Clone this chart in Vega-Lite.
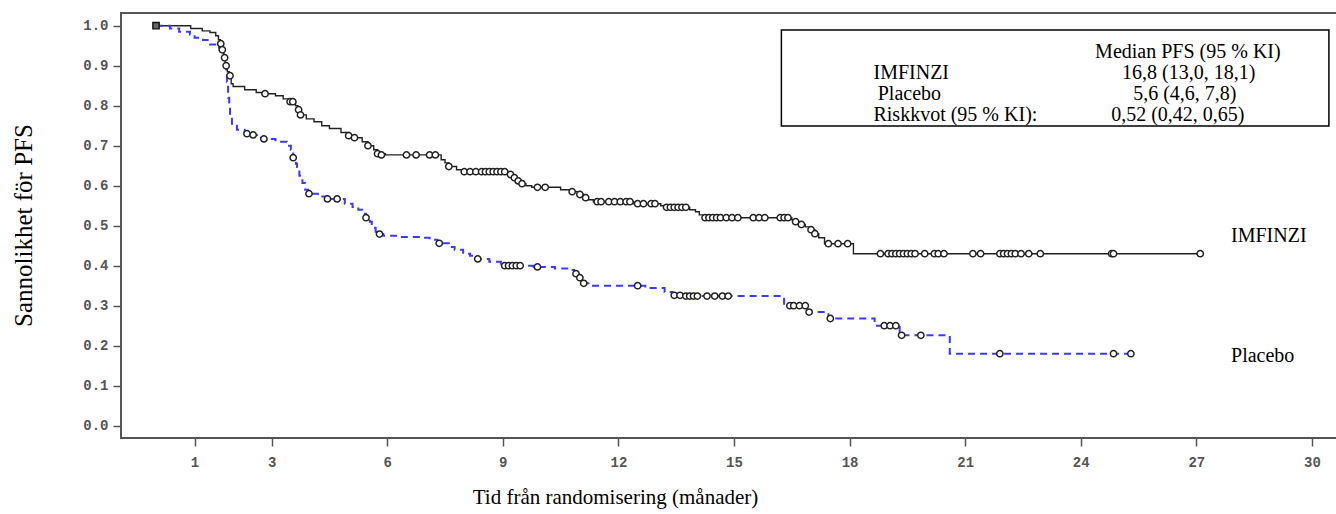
{
  "$schema": "https://vega.github.io/schema/vega-lite/v6.json",
  "width": 1216,
  "height": 425,
  "autosize": {"type": "none"},
  "padding": {"left": 121, "top": 13, "right": 0, "bottom": 76},
  "background": "white",
  "config": {
    "view": {"stroke": "#555", "strokeWidth": 2},
    "axis": {"grid": false, "domain": false, "labelFont": "Liberation Mono", "labelFontSize": 14, "labelFontWeight": "bold", "labelColor": "#555", "tickColor": "#555", "tickWidth": 1.5, "tickSize": 8, "titleFont": "Liberation Serif", "titleFontSize": 21, "titleFontWeight": "normal", "titleColor": "#000"}
  },
  "datasets": {
    "curve": [
      {"arm":"IMFINZI","t":0,"s":1.0},{"arm":"IMFINZI","t":0.9,"s":0.993},{"arm":"IMFINZI","t":1.2,"s":0.987},{"arm":"IMFINZI","t":1.4,"s":0.983},{"arm":"IMFINZI","t":1.55,"s":0.975},{"arm":"IMFINZI","t":1.62,"s":0.965},{"arm":"IMFINZI","t":1.67,"s":0.955},{"arm":"IMFINZI","t":1.72,"s":0.94},{"arm":"IMFINZI","t":1.76,"s":0.925},{"arm":"IMFINZI","t":1.8,"s":0.905},{"arm":"IMFINZI","t":1.85,"s":0.885},{"arm":"IMFINZI","t":1.9,"s":0.87},{"arm":"IMFINZI","t":1.95,"s":0.855},{"arm":"IMFINZI","t":2.0,"s":0.848},{"arm":"IMFINZI","t":2.3,"s":0.84},{"arm":"IMFINZI","t":2.6,"s":0.833},{"arm":"IMFINZI","t":2.75,"s":0.83},{"arm":"IMFINZI","t":3.1,"s":0.825},{"arm":"IMFINZI","t":3.3,"s":0.817},{"arm":"IMFINZI","t":3.45,"s":0.81},{"arm":"IMFINZI","t":3.62,"s":0.8},{"arm":"IMFINZI","t":3.68,"s":0.79},{"arm":"IMFINZI","t":3.73,"s":0.777},{"arm":"IMFINZI","t":3.9,"s":0.767},{"arm":"IMFINZI","t":4.1,"s":0.76},{"arm":"IMFINZI","t":4.3,"s":0.75},{"arm":"IMFINZI","t":4.5,"s":0.743},{"arm":"IMFINZI","t":4.8,"s":0.733},{"arm":"IMFINZI","t":5.0,"s":0.725},{"arm":"IMFINZI","t":5.2,"s":0.72},{"arm":"IMFINZI","t":5.35,"s":0.71},{"arm":"IMFINZI","t":5.5,"s":0.7},{"arm":"IMFINZI","t":5.65,"s":0.69},{"arm":"IMFINZI","t":5.75,"s":0.68},{"arm":"IMFINZI","t":5.95,"s":0.677},{"arm":"IMFINZI","t":7.4,"s":0.665},{"arm":"IMFINZI","t":7.5,"s":0.657},{"arm":"IMFINZI","t":7.6,"s":0.648},{"arm":"IMFINZI","t":7.8,"s":0.64},{"arm":"IMFINZI","t":7.95,"s":0.635},{"arm":"IMFINZI","t":9.15,"s":0.628},{"arm":"IMFINZI","t":9.25,"s":0.62},{"arm":"IMFINZI","t":9.35,"s":0.612},{"arm":"IMFINZI","t":9.45,"s":0.605},{"arm":"IMFINZI","t":9.6,"s":0.6},{"arm":"IMFINZI","t":9.75,"s":0.596},{"arm":"IMFINZI","t":10.5,"s":0.59},{"arm":"IMFINZI","t":10.75,"s":0.585},{"arm":"IMFINZI","t":10.95,"s":0.578},{"arm":"IMFINZI","t":11.1,"s":0.57},{"arm":"IMFINZI","t":11.2,"s":0.565},{"arm":"IMFINZI","t":11.35,"s":0.56},{"arm":"IMFINZI","t":12.4,"s":0.555},{"arm":"IMFINZI","t":13.1,"s":0.55},{"arm":"IMFINZI","t":13.2,"s":0.546},{"arm":"IMFINZI","t":13.85,"s":0.54},{"arm":"IMFINZI","t":14.0,"s":0.535},{"arm":"IMFINZI","t":14.1,"s":0.527},{"arm":"IMFINZI","t":14.2,"s":0.52},{"arm":"IMFINZI","t":16.5,"s":0.515},{"arm":"IMFINZI","t":16.6,"s":0.51},{"arm":"IMFINZI","t":16.75,"s":0.503},{"arm":"IMFINZI","t":16.85,"s":0.497},{"arm":"IMFINZI","t":17.0,"s":0.49},{"arm":"IMFINZI","t":17.1,"s":0.48},{"arm":"IMFINZI","t":17.2,"s":0.47},{"arm":"IMFINZI","t":17.35,"s":0.455},{"arm":"IMFINZI","t":18.1,"s":0.43},{"arm":"IMFINZI","t":27.1,"s":0.43},
      {"arm":"Placebo","t":0,"s":1.0},{"arm":"Placebo","t":0.36,"s":0.993},{"arm":"Placebo","t":0.6,"s":0.985},{"arm":"Placebo","t":0.88,"s":0.978},{"arm":"Placebo","t":1.0,"s":0.97},{"arm":"Placebo","t":1.22,"s":0.964},{"arm":"Placebo","t":1.4,"s":0.953},{"arm":"Placebo","t":1.58,"s":0.945},{"arm":"Placebo","t":1.71,"s":0.93},{"arm":"Placebo","t":1.76,"s":0.915},{"arm":"Placebo","t":1.79,"s":0.9},{"arm":"Placebo","t":1.82,"s":0.88},{"arm":"Placebo","t":1.84,"s":0.86},{"arm":"Placebo","t":1.87,"s":0.82},{"arm":"Placebo","t":1.9,"s":0.8},{"arm":"Placebo","t":1.92,"s":0.78},{"arm":"Placebo","t":1.97,"s":0.755},{"arm":"Placebo","t":2.1,"s":0.74},{"arm":"Placebo","t":2.3,"s":0.73},{"arm":"Placebo","t":2.5,"s":0.727},{"arm":"Placebo","t":2.65,"s":0.72},{"arm":"Placebo","t":2.8,"s":0.717},{"arm":"Placebo","t":3.1,"s":0.71},{"arm":"Placebo","t":3.4,"s":0.7},{"arm":"Placebo","t":3.5,"s":0.69},{"arm":"Placebo","t":3.56,"s":0.67},{"arm":"Placebo","t":3.63,"s":0.655},{"arm":"Placebo","t":3.66,"s":0.647},{"arm":"Placebo","t":3.72,"s":0.625},{"arm":"Placebo","t":3.8,"s":0.607},{"arm":"Placebo","t":3.87,"s":0.59},{"arm":"Placebo","t":3.95,"s":0.58},{"arm":"Placebo","t":4.2,"s":0.573},{"arm":"Placebo","t":4.4,"s":0.567},{"arm":"Placebo","t":4.9,"s":0.555},{"arm":"Placebo","t":5.1,"s":0.547},{"arm":"Placebo","t":5.25,"s":0.54},{"arm":"Placebo","t":5.35,"s":0.53},{"arm":"Placebo","t":5.45,"s":0.52},{"arm":"Placebo","t":5.55,"s":0.51},{"arm":"Placebo","t":5.6,"s":0.495},{"arm":"Placebo","t":5.7,"s":0.485},{"arm":"Placebo","t":5.78,"s":0.479},{"arm":"Placebo","t":5.9,"s":0.475},{"arm":"Placebo","t":6.35,"s":0.472},{"arm":"Placebo","t":6.85,"s":0.47},{"arm":"Placebo","t":7.1,"s":0.465},{"arm":"Placebo","t":7.3,"s":0.456},{"arm":"Placebo","t":7.6,"s":0.447},{"arm":"Placebo","t":7.75,"s":0.44},{"arm":"Placebo","t":7.97,"s":0.43},{"arm":"Placebo","t":8.15,"s":0.425},{"arm":"Placebo","t":8.3,"s":0.417},{"arm":"Placebo","t":8.65,"s":0.41},{"arm":"Placebo","t":8.95,"s":0.405},{"arm":"Placebo","t":9.0,"s":0.4},{"arm":"Placebo","t":9.8,"s":0.397},{"arm":"Placebo","t":10.35,"s":0.393},{"arm":"Placebo","t":10.75,"s":0.389},{"arm":"Placebo","t":10.85,"s":0.38},{"arm":"Placebo","t":10.95,"s":0.37},{"arm":"Placebo","t":11.05,"s":0.356},{"arm":"Placebo","t":11.25,"s":0.35},{"arm":"Placebo","t":12.7,"s":0.344},{"arm":"Placebo","t":13.2,"s":0.334},{"arm":"Placebo","t":13.4,"s":0.326},{"arm":"Placebo","t":13.7,"s":0.324},{"arm":"Placebo","t":16.3,"s":0.305},{"arm":"Placebo","t":16.4,"s":0.3},{"arm":"Placebo","t":16.9,"s":0.284},{"arm":"Placebo","t":17.45,"s":0.268},{"arm":"Placebo","t":18.65,"s":0.25},{"arm":"Placebo","t":19.3,"s":0.226},{"arm":"Placebo","t":20.6,"s":0.18},{"arm":"Placebo","t":25.3,"s":0.18}
    ],
    "censor": [
      {"arm":"IMFINZI","t":1.68,"s":0.955},{"arm":"IMFINZI","t":1.72,"s":0.94},{"arm":"IMFINZI","t":1.78,"s":0.92},{"arm":"IMFINZI","t":1.82,"s":0.9},{"arm":"IMFINZI","t":1.92,"s":0.875},{"arm":"IMFINZI","t":2.83,"s":0.83},{"arm":"IMFINZI","t":3.48,"s":0.81},{"arm":"IMFINZI","t":3.55,"s":0.81},{"arm":"IMFINZI","t":3.7,"s":0.79},{"arm":"IMFINZI","t":3.75,"s":0.777},{"arm":"IMFINZI","t":5.0,"s":0.725},{"arm":"IMFINZI","t":5.15,"s":0.72},{"arm":"IMFINZI","t":5.5,"s":0.7},{"arm":"IMFINZI","t":5.75,"s":0.68},{"arm":"IMFINZI","t":5.85,"s":0.677},{"arm":"IMFINZI","t":6.5,"s":0.677},{"arm":"IMFINZI","t":6.75,"s":0.677},{"arm":"IMFINZI","t":7.1,"s":0.677},{"arm":"IMFINZI","t":7.25,"s":0.677},{"arm":"IMFINZI","t":7.6,"s":0.648},{"arm":"IMFINZI","t":8.0,"s":0.635},{"arm":"IMFINZI","t":8.15,"s":0.635},{"arm":"IMFINZI","t":8.3,"s":0.635},{"arm":"IMFINZI","t":8.45,"s":0.635},{"arm":"IMFINZI","t":8.55,"s":0.635},{"arm":"IMFINZI","t":8.65,"s":0.635},{"arm":"IMFINZI","t":8.75,"s":0.635},{"arm":"IMFINZI","t":8.85,"s":0.635},{"arm":"IMFINZI","t":8.95,"s":0.635},{"arm":"IMFINZI","t":9.05,"s":0.635},{"arm":"IMFINZI","t":9.2,"s":0.628},{"arm":"IMFINZI","t":9.3,"s":0.62},{"arm":"IMFINZI","t":9.4,"s":0.612},{"arm":"IMFINZI","t":9.5,"s":0.605},{"arm":"IMFINZI","t":9.9,"s":0.596},{"arm":"IMFINZI","t":10.1,"s":0.596},{"arm":"IMFINZI","t":10.8,"s":0.585},{"arm":"IMFINZI","t":11.0,"s":0.578},{"arm":"IMFINZI","t":11.15,"s":0.57},{"arm":"IMFINZI","t":11.45,"s":0.56},{"arm":"IMFINZI","t":11.55,"s":0.56},{"arm":"IMFINZI","t":11.75,"s":0.56},{"arm":"IMFINZI","t":11.9,"s":0.56},{"arm":"IMFINZI","t":12.05,"s":0.56},{"arm":"IMFINZI","t":12.2,"s":0.56},{"arm":"IMFINZI","t":12.3,"s":0.56},{"arm":"IMFINZI","t":12.5,"s":0.555},{"arm":"IMFINZI","t":12.65,"s":0.555},{"arm":"IMFINZI","t":12.85,"s":0.555},{"arm":"IMFINZI","t":12.95,"s":0.555},{"arm":"IMFINZI","t":13.25,"s":0.546},{"arm":"IMFINZI","t":13.35,"s":0.546},{"arm":"IMFINZI","t":13.45,"s":0.546},{"arm":"IMFINZI","t":13.55,"s":0.546},{"arm":"IMFINZI","t":13.65,"s":0.546},{"arm":"IMFINZI","t":13.75,"s":0.546},{"arm":"IMFINZI","t":14.25,"s":0.52},{"arm":"IMFINZI","t":14.35,"s":0.52},{"arm":"IMFINZI","t":14.45,"s":0.52},{"arm":"IMFINZI","t":14.55,"s":0.52},{"arm":"IMFINZI","t":14.65,"s":0.52},{"arm":"IMFINZI","t":14.8,"s":0.52},{"arm":"IMFINZI","t":14.95,"s":0.52},{"arm":"IMFINZI","t":15.1,"s":0.52},{"arm":"IMFINZI","t":15.5,"s":0.52},{"arm":"IMFINZI","t":15.65,"s":0.52},{"arm":"IMFINZI","t":15.8,"s":0.52},{"arm":"IMFINZI","t":16.2,"s":0.52},{"arm":"IMFINZI","t":16.3,"s":0.52},{"arm":"IMFINZI","t":16.4,"s":0.52},{"arm":"IMFINZI","t":16.6,"s":0.51},{"arm":"IMFINZI","t":16.75,"s":0.503},{"arm":"IMFINZI","t":17.0,"s":0.49},{"arm":"IMFINZI","t":17.1,"s":0.48},{"arm":"IMFINZI","t":17.45,"s":0.455},{"arm":"IMFINZI","t":17.7,"s":0.455},{"arm":"IMFINZI","t":17.95,"s":0.455},{"arm":"IMFINZI","t":18.8,"s":0.43},{"arm":"IMFINZI","t":19.0,"s":0.43},{"arm":"IMFINZI","t":19.1,"s":0.43},{"arm":"IMFINZI","t":19.2,"s":0.43},{"arm":"IMFINZI","t":19.3,"s":0.43},{"arm":"IMFINZI","t":19.4,"s":0.43},{"arm":"IMFINZI","t":19.5,"s":0.43},{"arm":"IMFINZI","t":19.6,"s":0.43},{"arm":"IMFINZI","t":19.7,"s":0.43},{"arm":"IMFINZI","t":19.95,"s":0.43},{"arm":"IMFINZI","t":20.2,"s":0.43},{"arm":"IMFINZI","t":20.3,"s":0.43},{"arm":"IMFINZI","t":20.45,"s":0.43},{"arm":"IMFINZI","t":21.2,"s":0.43},{"arm":"IMFINZI","t":21.4,"s":0.43},{"arm":"IMFINZI","t":21.9,"s":0.43},{"arm":"IMFINZI","t":22.0,"s":0.43},{"arm":"IMFINZI","t":22.1,"s":0.43},{"arm":"IMFINZI","t":22.2,"s":0.43},{"arm":"IMFINZI","t":22.3,"s":0.43},{"arm":"IMFINZI","t":22.45,"s":0.43},{"arm":"IMFINZI","t":22.65,"s":0.43},{"arm":"IMFINZI","t":22.95,"s":0.43},{"arm":"IMFINZI","t":24.8,"s":0.43},{"arm":"IMFINZI","t":24.85,"s":0.43},{"arm":"IMFINZI","t":27.1,"s":0.43},
      {"arm":"Placebo","t":2.36,"s":0.73},{"arm":"Placebo","t":2.52,"s":0.727},{"arm":"Placebo","t":2.8,"s":0.717},{"arm":"Placebo","t":3.56,"s":0.67},{"arm":"Placebo","t":3.97,"s":0.58},{"arm":"Placebo","t":4.45,"s":0.567},{"arm":"Placebo","t":4.7,"s":0.567},{"arm":"Placebo","t":5.45,"s":0.52},{"arm":"Placebo","t":5.8,"s":0.479},{"arm":"Placebo","t":7.35,"s":0.456},{"arm":"Placebo","t":8.35,"s":0.417},{"arm":"Placebo","t":9.05,"s":0.4},{"arm":"Placebo","t":9.15,"s":0.4},{"arm":"Placebo","t":9.25,"s":0.4},{"arm":"Placebo","t":9.35,"s":0.4},{"arm":"Placebo","t":9.45,"s":0.4},{"arm":"Placebo","t":9.9,"s":0.397},{"arm":"Placebo","t":10.9,"s":0.38},{"arm":"Placebo","t":11.0,"s":0.37},{"arm":"Placebo","t":11.1,"s":0.356},{"arm":"Placebo","t":12.5,"s":0.35},{"arm":"Placebo","t":13.45,"s":0.326},{"arm":"Placebo","t":13.6,"s":0.326},{"arm":"Placebo","t":13.75,"s":0.324},{"arm":"Placebo","t":13.85,"s":0.324},{"arm":"Placebo","t":13.95,"s":0.324},{"arm":"Placebo","t":14.05,"s":0.324},{"arm":"Placebo","t":14.3,"s":0.324},{"arm":"Placebo","t":14.5,"s":0.324},{"arm":"Placebo","t":14.7,"s":0.324},{"arm":"Placebo","t":14.85,"s":0.324},{"arm":"Placebo","t":16.45,"s":0.3},{"arm":"Placebo","t":16.55,"s":0.3},{"arm":"Placebo","t":16.7,"s":0.3},{"arm":"Placebo","t":16.85,"s":0.3},{"arm":"Placebo","t":16.95,"s":0.284},{"arm":"Placebo","t":17.5,"s":0.268},{"arm":"Placebo","t":18.9,"s":0.25},{"arm":"Placebo","t":19.05,"s":0.25},{"arm":"Placebo","t":19.2,"s":0.25},{"arm":"Placebo","t":19.35,"s":0.226},{"arm":"Placebo","t":19.85,"s":0.226},{"arm":"Placebo","t":21.9,"s":0.18},{"arm":"Placebo","t":24.85,"s":0.18},{"arm":"Placebo","t":25.3,"s":0.18}
    ],
    "start": [{"t":0,"s":1.0}],
    "box": [{"x1":16.23,"x2":30.44,"y1":0.749,"y2":0.989}],
    "boxLeft": [
      {"text":"IMFINZI","t":18.62,"s":0.882},
      {"text":"Placebo","t":18.73,"s":0.829},
      {"text":"Riskkvot (95 % KI):","t":18.62,"s":0.777}
    ],
    "boxCenter": [
      {"text":"Median PFS (95 % KI)","t":26.78,"s":0.934},
      {"text":"16,8 (13,0, 18,1)","t":26.8,"s":0.882},
      {"text":"5,6 (4,6, 7,8)","t":26.7,"s":0.829},
      {"text":"0,52 (0,42, 0,65)","t":26.52,"s":0.777}
    ],
    "armLabels": [
      {"text":"IMFINZI","t":27.9,"s":0.474},
      {"text":"Placebo","t":27.9,"s":0.174}
    ]
  },
  "layer": [
    {
      "data": {"name": "curve"},
      "mark": {"type": "line", "interpolate": "step-after", "clip": true},
      "encoding": {
        "x": {"field": "t", "type": "quantitative", "scale": {"domain": [-0.909, 30.65], "nice": false, "zero": false},
          "axis": {"values": [1,3,6,9,12,15,18,21,24,27,30], "labelPadding": 9, "title": "Tid från randomisering (månader)", "titleX": 494, "titleY": 59, "titleAlign": "center", "titleBaseline": "middle"}},
        "y": {"field": "s", "type": "quantitative", "scale": {"domain": [-0.0308, 1.0318], "nice": false, "zero": false},
          "axis": {"values": [0,0.1,0.2,0.3,0.4,0.5,0.6,0.7,0.8,0.9,1.0], "format": ".1f", "labelPadding": 5, "title": "Sannolikhet för PFS", "titleFontSize": 25, "titleX": -98, "titleY": 212, "titleAngle": -90, "titleAlign": "center", "titleBaseline": "middle"}},
        "color": {"field": "arm", "type": "nominal", "scale": {"domain": ["IMFINZI","Placebo"], "range": ["#222222","#3a3aff"]}, "legend": null},
        "strokeDash": {"field": "arm", "type": "nominal", "scale": {"domain": ["IMFINZI","Placebo"], "range": [[1,0],[7,5]]}, "legend": null},
        "strokeWidth": {"field": "arm", "type": "nominal", "scale": {"domain": ["IMFINZI","Placebo"], "range": [1.4,2]}, "legend": null}
      }
    },
    {
      "data": {"name": "censor"},
      "mark": {"type": "point", "shape": "circle", "filled": false, "fill": "white", "fillOpacity": 1, "stroke": "#222", "strokeWidth": 1.5, "size": 40, "opacity": 1},
      "encoding": {
        "x": {"field": "t", "type": "quantitative"},
        "y": {"field": "s", "type": "quantitative"}
      }
    },
    {
      "data": {"name": "start"},
      "mark": {"type": "point", "shape": "square", "filled": false, "fill": "#666", "fillOpacity": 1, "stroke": "#111", "strokeWidth": 1.4, "size": 40, "opacity": 1},
      "encoding": {
        "x": {"field": "t", "type": "quantitative"},
        "y": {"field": "s", "type": "quantitative"}
      }
    },
    {
      "data": {"name": "box"},
      "mark": {"type": "rect", "fill": "white", "stroke": "#000", "strokeWidth": 1.5},
      "encoding": {
        "x": {"field": "x1", "type": "quantitative"},
        "x2": {"field": "x2"},
        "y": {"field": "y1", "type": "quantitative"},
        "y2": {"field": "y2"}
      }
    },
    {
      "data": {"name": "boxLeft"},
      "mark": {"type": "text", "align": "left", "baseline": "middle", "font": "Liberation Serif", "fontSize": 20, "color": "#000"},
      "encoding": {
        "x": {"field": "t", "type": "quantitative"},
        "y": {"field": "s", "type": "quantitative"},
        "text": {"field": "text"}
      }
    },
    {
      "data": {"name": "boxCenter"},
      "mark": {"type": "text", "align": "center", "baseline": "middle", "font": "Liberation Serif", "fontSize": 20, "color": "#000"},
      "encoding": {
        "x": {"field": "t", "type": "quantitative"},
        "y": {"field": "s", "type": "quantitative"},
        "text": {"field": "text"}
      }
    },
    {
      "data": {"name": "armLabels"},
      "mark": {"type": "text", "align": "left", "baseline": "middle", "font": "Liberation Serif", "fontSize": 20, "color": "#000"},
      "encoding": {
        "x": {"field": "t", "type": "quantitative"},
        "y": {"field": "s", "type": "quantitative"},
        "text": {"field": "text"}
      }
    }
  ]
}
